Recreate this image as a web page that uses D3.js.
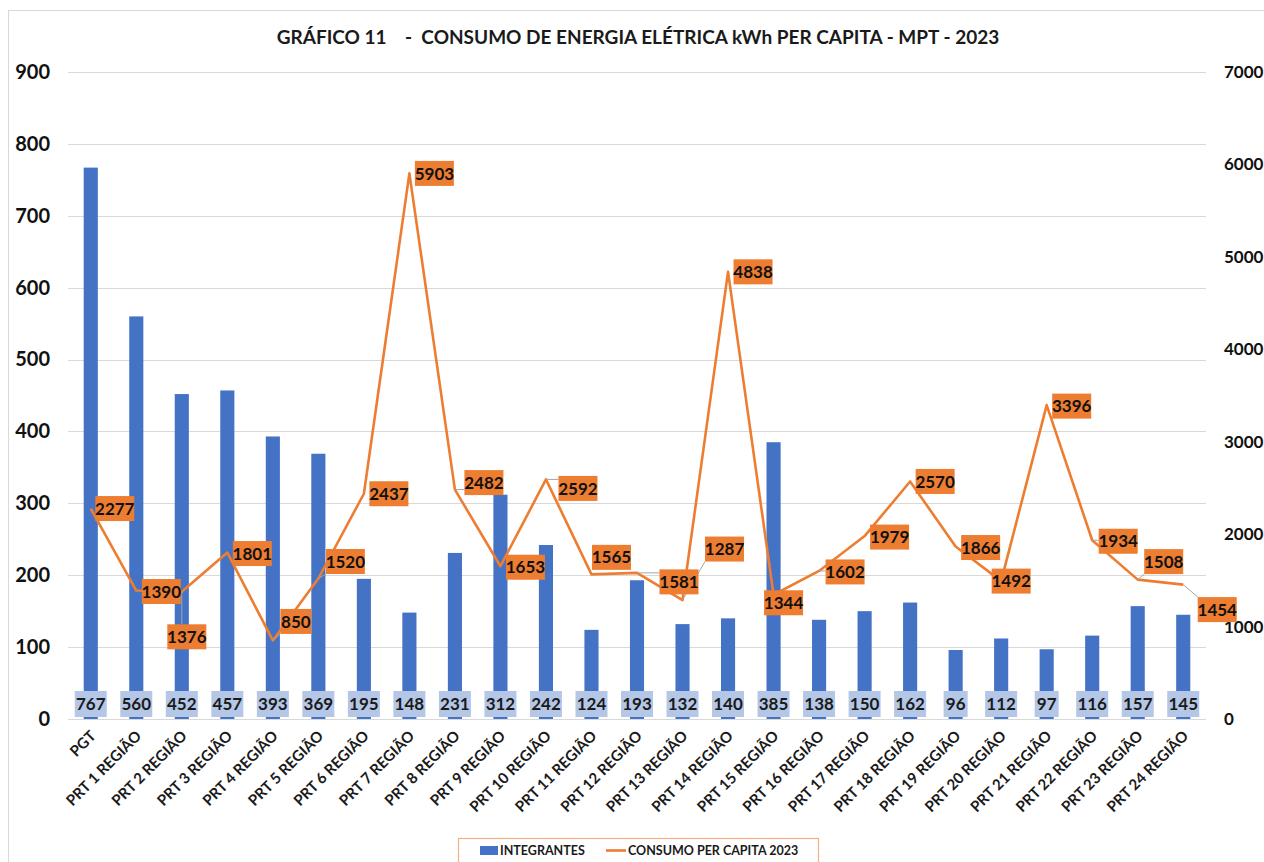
<!DOCTYPE html>
<html>
<head>
<meta charset="utf-8">
<script src="https://cdn.jsdelivr.net/npm/d3@7"></script>
<style>
  body { margin: 0; background: #fff; }
  svg { font-family: Lato, "Open Sans", sans-serif; }
</style>
</head>
<body>
<div id="visContainer"></div>
<script>
'use strict';

// data
var categories = ['PGT', 'PRT 1 REGIÃO', 'PRT 2 REGIÃO', 'PRT 3 REGIÃO', 'PRT 4 REGIÃO', 'PRT 5 REGIÃO',
  'PRT 6 REGIÃO', 'PRT 7 REGIÃO', 'PRT 8 REGIÃO', 'PRT 9 REGIÃO', 'PRT 10 REGIÃO', 'PRT 11 REGIÃO',
  'PRT 12 REGIÃO', 'PRT 13 REGIÃO', 'PRT 14 REGIÃO', 'PRT 15 REGIÃO', 'PRT 16 REGIÃO', 'PRT 17 REGIÃO',
  'PRT 18 REGIÃO', 'PRT 19 REGIÃO', 'PRT 20 REGIÃO', 'PRT 21 REGIÃO', 'PRT 22 REGIÃO', 'PRT 23 REGIÃO',
  'PRT 24 REGIÃO'];
var integrantes = [767, 560, 452, 457, 393, 369, 195, 148, 231, 312, 242, 124, 193, 132, 140, 385,
  138, 150, 162, 96, 112, 97, 116, 157, 145];
var consumo = [2277, 1390, 1376, 1801, 850, 1520, 2437, 5903, 2482, 1653, 2592, 1565, 1581, 1287,
  4838, 1344, 1602, 1979, 2570, 1866, 1492, 3396, 1934, 1508, 1454];
var leftTicks = [0, 100, 200, 300, 400, 500, 600, 700, 800, 900];
var rightTicks = [0, 1000, 2000, 3000, 4000, 5000, 6000, 7000];
var seriesNames = ['INTEGRANTES', 'CONSUMO PER CAPITA 2023'];

// where each orange label sits relative to its point (like the manual placing in the original)
var labelNudge = [[24, 0], [25, 1], [5, 45], [25, 1], [23, -19], [27, -17], [25, 0], [25, 0],
  [29, -7], [25, 1], [32, 9], [20, -17], [42, 9], [42, -51], [25, 0], [10, 8], [26, 1], [25, 1],
  [25, 0], [25, 1], [10, 0], [25, 1], [26, 1], [26, -18], [34, 25]];

var width = 1264, height = 862;
var svg = d3.select('#visContainer').append('svg')
  .attr('width', width).attr('height', height);

// outer chart border
svg.append('rect').attr('x', 8.5).attr('y', 10.5).attr('width', 1300).attr('height', 900)
  .attr('fill', 'none').attr('stroke', '#d9d9d9');

var plotLeft = 68, plotRight = 1206, plotTop = 72, plotBottom = 719;

var x = d3.scaleBand().domain(categories).range([plotLeft, plotRight]).paddingInner(0.69).paddingOuter(0.345);
var yL = d3.scaleLinear().domain([0, 900]).range([plotBottom, plotTop]);
var yR = d3.scaleLinear().domain([0, 7000]).range([plotBottom, plotTop]);

function cx(i) { return x(categories[i]) + x.bandwidth() / 2; }
function boxW(d) { return String(d).length > 3 ? 39 : 31; }

// title
svg.append('text').attr('x', 638).attr('y', 44).attr('text-anchor', 'middle')
  .attr('font-size', 19).attr('font-weight', 'bold').attr('fill', '#1a1a1a')
  .attr('xml:space', 'preserve')
  .text('GRÁFICO 11    -  CONSUMO DE ENERGIA ELÉTRICA kWh PER CAPITA - MPT - 2023');

// gridlines
svg.append('g').selectAll('line').data(leftTicks).enter().append('line')
  .attr('x1', plotLeft).attr('x2', plotRight)
  .attr('y1', function(d) { return Math.round(yL(d)) + 0.5; })
  .attr('y2', function(d) { return Math.round(yL(d)) + 0.5; })
  .attr('stroke', '#d9d9d9').attr('stroke-width', 1.2);

// left axis
var axL = svg.append('g').attr('transform', 'translate(' + (plotLeft - 18) + ',0)')
  .call(d3.axisLeft(yL).tickValues(leftTicks).tickSize(0).tickPadding(0));
axL.select('.domain').remove();
axL.selectAll('text').attr('font-size', 20).attr('font-weight', 'bold').attr('fill', '#111')
  .attr('font-family', 'Lato, sans-serif');

// right axis
var axR = svg.append('g').attr('transform', 'translate(' + (plotRight + 18) + ',0)')
  .call(d3.axisRight(yR).tickValues(rightTicks).tickFormat(d3.format('d')).tickSize(0).tickPadding(0));
axR.select('.domain').remove();
axR.selectAll('text').attr('font-size', 17).attr('font-weight', 'bold').attr('fill', '#111')
  .attr('font-family', 'Lato, sans-serif');

// bars
svg.append('g').selectAll('rect').data(integrantes).enter().append('rect')
  .attr('x', function(d, i) { return x(categories[i]); })
  .attr('width', x.bandwidth())
  .attr('y', function(d) { return yL(d); })
  .attr('height', function(d) { return yL(0) - yL(d); })
  .attr('fill', '#4472c4');

// bar value boxes near the base
var barLab = svg.append('g').selectAll('g').data(integrantes).enter().append('g')
  .attr('transform', function(d, i) { return 'translate(' + cx(i) + ',' + (plotBottom - 15) + ')'; });
barLab.append('rect')
  .attr('x', function(d) { return String(d).length > 2 ? -16 : -12; })
  .attr('width', function(d) { return String(d).length > 2 ? 32 : 24; })
  .attr('y', -13).attr('height', 26).attr('fill', '#b4c7e7');
barLab.append('text').attr('text-anchor', 'middle').attr('dy', '0.36em')
  .attr('font-size', 17).attr('font-weight', 'bold').attr('fill', '#1a1a1a')
  .text(function(d) { return d; });

// line
var line = d3.line()
  .x(function(d, i) { return cx(i); })
  .y(function(d) { return yR(d); });
svg.append('path').datum(consumo).attr('d', line)
  .attr('fill', 'none').attr('stroke', '#ed7d31').attr('stroke-width', 2.6).attr('stroke-linejoin', 'round');

// leader lines from each point to the nearest edge of its moved label
var pts = consumo.map(function(v, i) {
  var px = cx(i), py = yR(v);
  var bx = px + labelNudge[i][0], by = py + labelNudge[i][1];
  var hw = boxW(v) / 2, hh = 12.5;
  return { v: v, px: px, py: py, bx: bx, by: by,
    ex: Math.max(bx - hw, Math.min(bx + hw, px)), ey: Math.max(by - hh, Math.min(by + hh, py)) };
});
svg.append('g').selectAll('line')
  .data(pts.filter(function(p) { return Math.hypot(p.ex - p.px, p.ey - p.py) > 6; }))
  .enter().append('line')
  .attr('x1', function(p) { return p.px; }).attr('y1', function(p) { return p.py; })
  .attr('x2', function(p) { return p.ex; }).attr('y2', function(p) { return p.ey; })
  .attr('stroke', '#a6a6a6').attr('stroke-width', 1);

// orange value labels
var lineLab = svg.append('g').selectAll('g').data(pts).enter().append('g')
  .attr('transform', function(p) { return 'translate(' + p.bx + ',' + p.by + ')'; });
lineLab.append('rect')
  .attr('x', function(p) { return -boxW(p.v) / 2; })
  .attr('width', function(p) { return boxW(p.v); })
  .attr('y', -12.5).attr('height', 25).attr('fill', '#ed7d31');
lineLab.append('text').attr('text-anchor', 'middle').attr('dy', '0.36em')
  .attr('font-size', 17).attr('font-weight', 'bold').attr('fill', '#111')
  .text(function(p) { return p.v; });

// category labels, rotated
svg.append('g').selectAll('text').data(categories).enter().append('text')
  .attr('transform', function(d) { return 'translate(' + (x(d) + x.bandwidth() / 2 + 6) + ',' + (plotBottom + 18) + ') rotate(-45)'; })
  .attr('text-anchor', 'end')
  .attr('font-size', 15).attr('font-weight', 'bold').attr('fill', '#1a1a1a')
  .text(function(d) { return d; });

// legend
var lg = svg.append('g');
lg.append('rect').attr('x', 458.5).attr('y', 838.5).attr('width', 360).attr('height', 30)
  .attr('fill', '#fff').attr('stroke', '#f4b183').attr('stroke-width', 1.2);
lg.append('rect').attr('x', 480).attr('y', 846).attr('width', 18).attr('height', 9).attr('fill', '#4472c4');
lg.append('text').attr('x', 500).attr('y', 855).attr('font-size', 12.5).attr('font-weight', 'bold')
  .attr('fill', '#1a1a1a').text(seriesNames[0]);
lg.append('line').attr('x1', 606).attr('x2', 626).attr('y1', 850.5).attr('y2', 850.5)
  .attr('stroke', '#ed7d31').attr('stroke-width', 2.6);
lg.append('text').attr('x', 628).attr('y', 855).attr('font-size', 12.5).attr('font-weight', 'bold')
  .attr('fill', '#1a1a1a').text(seriesNames[1]);
</script>
</body>
</html>
